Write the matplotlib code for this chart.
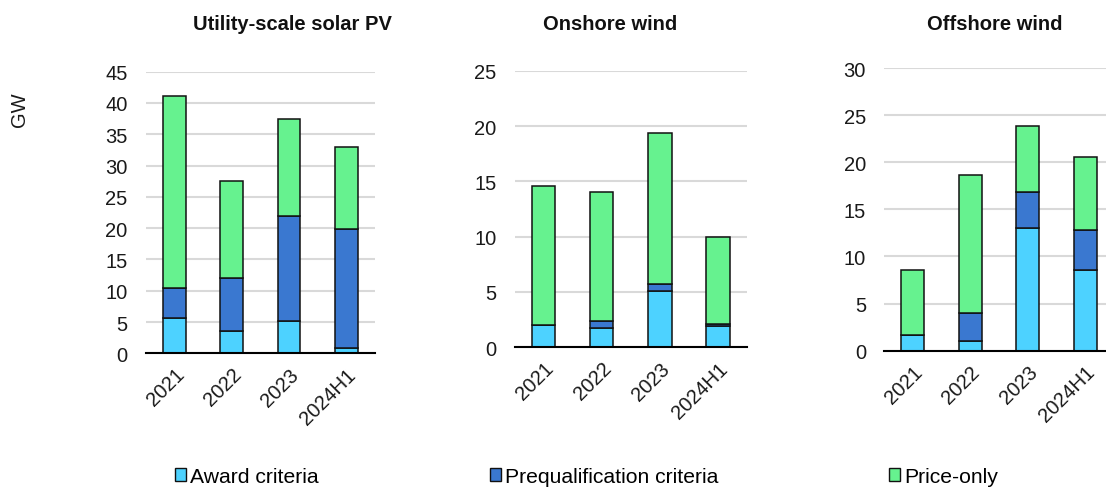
import matplotlib
matplotlib.use("Agg")
import matplotlib.pyplot as plt
from matplotlib.patches import Patch
import numpy as np

plt.rcParams['font.family'] = ['Liberation Sans', 'DejaVu Sans']

years = ["2021", "2022", "2023", "2024H1"]

# GW by selection criteria
solar_award = [5.6, 3.5, 5.2, 0.9]
solar_prequal = [4.9, 8.5, 16.8, 18.9]
solar_price = [30.6, 15.6, 15.4, 13.1]

onshore_award = [2.0, 1.7, 5.1, 1.9]
onshore_prequal = [0.0, 0.7, 0.6, 0.2]
onshore_price = [12.6, 11.6, 13.7, 7.9]

offshore_award = [1.7, 1.0, 13.0, 8.6]
offshore_prequal = [0.0, 3.0, 3.8, 4.2]
offshore_price = [6.9, 14.6, 7.0, 7.8]

titles = ["Utility-scale solar PV", "Onshore wind", "Offshore wind"]
series_labels = ["Award criteria", "Prequalification criteria", "Price-only"]
colors = ["#4dd2ff", "#3a78d0", "#66f28f"]

panels = [
    (solar_award, solar_prequal, solar_price, 45, 5),
    (onshore_award, onshore_prequal, onshore_price, 25, 5),
    (offshore_award, offshore_prequal, offshore_price, 30, 5),
]

W, H = 1106, 489
fig = plt.figure(figsize=(W / 100, H / 100), dpi=100)

TICK_FS = 14.5
TEXT_FS = 14.5
LEGEND_FS = 15.2

# axes boxes in pixels: left, right, y of zero, y of top tick
boxes = [
    (145.7, 375.0, 354.3, 72.7),
    (514.8, 747.0, 348.3, 71.7),
    (884.0, 1114.0, 351.7, 69.0),
]
title_x = [292, 610, 995]

for (award, prequal, price, ymax, step), (l, r, y0, y1), title, tx in zip(panels, boxes, titles, title_x):
    ax = fig.add_axes([l / W, 1 - y0 / H, (r - l) / W, (y0 - y1) / H])
    x = np.arange(len(years))
    bottom = np.zeros(len(years))
    for vals, c in zip((award, prequal, price), colors):
        ax.bar(x, vals, width=0.4, bottom=bottom, color=c, edgecolor="#111111",
               linewidth=1.1, zorder=3)
        bottom += np.array(vals)
    ax.set_xlim(-0.5, len(years) - 0.5)
    ax.set_ylim(0, ymax)
    ax.set_yticks(np.arange(0, ymax + 0.1, step))
    ax.yaxis.grid(True, color="#d9d9d9", linewidth=1.5, zorder=0)
    ax.set_axisbelow(True)
    for s in ("left", "right", "top"):
        ax.spines[s].set_visible(False)
    ax.spines["bottom"].set_color("black")
    ax.spines["bottom"].set_linewidth(1.5)
    ax.spines["bottom"].set_zorder(4)
    ax.tick_params(axis="both", length=0, labelsize=TICK_FS, labelcolor="#1a1a1a")
    ax.tick_params(axis="y", pad=13)
    ax.tick_params(axis="x", pad=8)
    ax.set_xticks(x)
    ax.set_xticklabels(years, rotation=45, ha="right", rotation_mode="anchor")
    fig.text(tx / W, 1 - 24 / H, title, ha="center", va="center",
             fontsize=TEXT_FS, fontweight="bold", color="#111111")

fig.text(20 / W, 1 - 110 / H, "GW", rotation=90, ha="center", va="center",
         fontsize=TICK_FS, color="#1a1a1a")

handles = [Patch(facecolor=c, edgecolor="#111111", linewidth=1.0) for c in colors]
fig.legend(handles, series_labels, loc="center left",
           bbox_to_anchor=(175 / W, 1 - 477.5 / H), ncol=3, frameon=False,
           fontsize=LEGEND_FS, handlelength=0.52, handleheight=0.52, handletextpad=0.2,
           columnspacing=8.1, borderaxespad=0, borderpad=0)

fig.savefig("out.png", dpi=100)
